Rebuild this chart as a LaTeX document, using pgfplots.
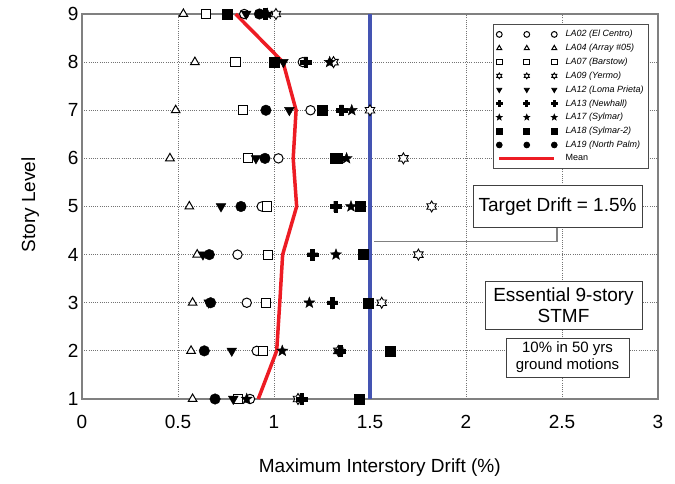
\documentclass[border=0pt]{standalone}
\usepackage{fontspec}
\setmainfont{Liberation Sans}
\usepackage{pgfplots}
\pgfplotsset{compat=1.18}

\definecolor{meanred}{RGB}{237,28,36}
\definecolor{targetblue}{RGB}{68,84,178}
\definecolor{axgray}{RGB}{128,128,128}

\pgfplotsset{
 threemarks/.style={legend image code/.code={\draw[##1, only marks, mark size=2.9pt] plot coordinates {(0pt,0pt) (27.5pt,0pt) (55pt,0pt)};}},
 meanlegend/.style={legend image code/.code={\draw[##1] (0pt,0pt) -- (55pt,0pt);}},
}

\pgfdeclareplotmark{hexstar}{%
 \pgfpathmoveto{\pgfpointpolar{90}{\pgfplotmarksize}}%
 \pgfpathlineto{\pgfpointpolar{120}{0.577\pgfplotmarksize}}%
 \pgfpathlineto{\pgfpointpolar{150}{\pgfplotmarksize}}%
 \pgfpathlineto{\pgfpointpolar{180}{0.577\pgfplotmarksize}}%
 \pgfpathlineto{\pgfpointpolar{210}{\pgfplotmarksize}}%
 \pgfpathlineto{\pgfpointpolar{240}{0.577\pgfplotmarksize}}%
 \pgfpathlineto{\pgfpointpolar{270}{\pgfplotmarksize}}%
 \pgfpathlineto{\pgfpointpolar{300}{0.577\pgfplotmarksize}}%
 \pgfpathlineto{\pgfpointpolar{330}{\pgfplotmarksize}}%
 \pgfpathlineto{\pgfpointpolar{0}{0.577\pgfplotmarksize}}%
 \pgfpathlineto{\pgfpointpolar{30}{\pgfplotmarksize}}%
 \pgfpathlineto{\pgfpointpolar{60}{0.577\pgfplotmarksize}}%
 \pgfpathclose
 \pgfusepathqfillstroke}

\pgfdeclareplotmark{fivestar}{%
 \pgfpathmoveto{\pgfpointpolar{90}{\pgfplotmarksize}}%
 \pgfpathlineto{\pgfpointpolar{126}{0.42\pgfplotmarksize}}%
 \pgfpathlineto{\pgfpointpolar{162}{\pgfplotmarksize}}%
 \pgfpathlineto{\pgfpointpolar{198}{0.42\pgfplotmarksize}}%
 \pgfpathlineto{\pgfpointpolar{234}{\pgfplotmarksize}}%
 \pgfpathlineto{\pgfpointpolar{270}{0.42\pgfplotmarksize}}%
 \pgfpathlineto{\pgfpointpolar{306}{\pgfplotmarksize}}%
 \pgfpathlineto{\pgfpointpolar{342}{0.42\pgfplotmarksize}}%
 \pgfpathlineto{\pgfpointpolar{18}{\pgfplotmarksize}}%
 \pgfpathlineto{\pgfpointpolar{54}{0.42\pgfplotmarksize}}%
 \pgfpathclose
 \pgfusepathqfillstroke}

\pgfdeclareplotmark{bigplus}{%
 \pgfpathmoveto{\pgfpoint{0.36\pgfplotmarksize}{\pgfplotmarksize}}%
 \pgfpathlineto{\pgfpoint{0.36\pgfplotmarksize}{0.36\pgfplotmarksize}}%
 \pgfpathlineto{\pgfpoint{\pgfplotmarksize}{0.36\pgfplotmarksize}}%
 \pgfpathlineto{\pgfpoint{\pgfplotmarksize}{-0.36\pgfplotmarksize}}%
 \pgfpathlineto{\pgfpoint{0.36\pgfplotmarksize}{-0.36\pgfplotmarksize}}%
 \pgfpathlineto{\pgfpoint{0.36\pgfplotmarksize}{-\pgfplotmarksize}}%
 \pgfpathlineto{\pgfpoint{-0.36\pgfplotmarksize}{-\pgfplotmarksize}}%
 \pgfpathlineto{\pgfpoint{-0.36\pgfplotmarksize}{-0.36\pgfplotmarksize}}%
 \pgfpathlineto{\pgfpoint{-\pgfplotmarksize}{-0.36\pgfplotmarksize}}%
 \pgfpathlineto{\pgfpoint{-\pgfplotmarksize}{0.36\pgfplotmarksize}}%
 \pgfpathlineto{\pgfpoint{-0.36\pgfplotmarksize}{0.36\pgfplotmarksize}}%
 \pgfpathlineto{\pgfpoint{-0.36\pgfplotmarksize}{\pgfplotmarksize}}%
 \pgfpathclose
 \pgfusepathqfillstroke}

\begin{document}
\begin{tikzpicture}
\path[use as bounding box] (-82pt,-85pt) rectangle (593pt,399pt);
\begin{axis}[
 at={(0pt,0pt)}, anchor=south west,
 scale only axis, width=576pt, height=385pt,
 xmin=0, xmax=3, ymin=1, ymax=9,
 xtick={0,0.5,1,1.5,2,2.5,3}, ytick={1,2,...,9},
 major tick length=0pt,
 axis line style={draw=axgray, line width=1.2pt},
 xmajorgrids, ymajorgrids,
 grid style={draw=black!55, line width=0.8pt, dash pattern=on 1pt off 1.2pt},
 /pgf/number format/assume math mode=true,
 tick label style={font=\fontsize{19}{22}\selectfont},
 xticklabel style={yshift=-13pt},
 xlabel={Maximum Interstory Drift (\%)}, ylabel={Story Level},
 label style={font=\fontsize{19}{22}\selectfont},
 xlabel style={at={(axis description cs:0.517,-0.177)}, anchor=center},
 ylabel style={at={(axis description cs:-0.09,0.504)}, anchor=center},
 clip=false,
 threemarks,
 legend style={at={(0.7135,0.974)}, anchor=north west, draw=black!70, line width=0.8pt, fill=white,
   font=\fontsize{9}{10}\selectfont, inner xsep=3pt, inner ysep=4.5pt, row sep=2.8pt,
   nodes={inner sep=1.5pt}, cells={anchor=west},
   /tikz/every odd column/.append style={column sep=7pt}},
]
% target drift line
\addplot[forget plot, draw=targetblue, line width=4.5pt] coordinates {(1.5,1) (1.5,9)};

% LA02 open circle
\addplot[only marks, mark=*, mark size=4.7pt, draw=black, fill=white, line width=1pt]
 coordinates {(0.875,1) (0.91,2) (0.858,3) (0.81,4) (0.936,5) (1.023,6) (1.19,7) (1.15,8) (0.845,9)};
\addlegendentry{\textit{LA02 (El Centro)}}
% LA04 open triangle
\addplot[only marks, mark=triangle*, mark size=5pt, draw=black, fill=white, line width=1pt]
 coordinates {(0.576,1) (0.568,2) (0.576,3) (0.60,4) (0.559,5) (0.458,6) (0.488,7) (0.588,8) (0.528,9)};
\addlegendentry{\textit{LA04 (Array \#05)}}
% LA07 open square
\addplot[only marks, mark=square*, mark size=4.6pt, draw=black, fill=white, line width=1pt]
 coordinates {(0.814,1) (0.941,2) (0.958,3) (0.97,4) (0.965,5) (0.866,6) (0.84,7) (0.80,8) (0.646,9)};
\addlegendentry{\textit{LA07 (Barstow)}}
% LA09 open hexagram
\addplot[only marks, mark=hexstar, mark size=5.5pt, draw=black, fill=white, line width=0.9pt]
 coordinates {(1.125,1) (1.335,2) (1.561,3) (1.752,4) (1.821,5) (1.674,6) (1.50,7) (1.31,8) (1.01,9)};
\addlegendentry{\textit{LA09 (Yermo)}}
% LA12 filled down triangle
\addplot[only marks, mark=triangle*, mark size=5.6pt, mark options={rotate=180}, draw=black, fill=black]
 coordinates {(0.788,1) (0.78,2) (0.66,3) (0.63,4) (0.724,5) (0.906,6) (1.08,7) (1.049,8) (0.855,9)};
\addlegendentry{\textit{LA12 (Loma Prieta)}}
% LA13 plus
\addplot[only marks, mark=bigplus, mark size=5.3pt, draw=black, fill=black]
 coordinates {(1.144,1) (1.344,2) (1.304,3) (1.201,4) (1.321,5) (1.344,6) (1.352,7) (1.165,8) (0.955,9)};
\addlegendentry{\textit{LA13 (Newhall)}}
% LA17 star
\addplot[only marks, mark=fivestar, mark size=5.8pt, draw=black, fill=black]
 coordinates {(0.858,1) (1.043,2) (1.184,3) (1.323,4) (1.401,5) (1.378,6) (1.405,7) (1.29,8) (0.965,9)};
\addlegendentry{\textit{LA17 (Sylmar)}}
% LA18 filled square
\addplot[only marks, mark=square*, mark size=5pt, draw=black, fill=black]
 coordinates {(1.444,1) (1.604,2) (1.491,3) (1.462,4) (1.451,5) (1.318,6) (1.25,7) (1.0,8) (0.757,9)};
\addlegendentry{\textit{LA18 (Sylmar-2)}}
% LA19 filled circle
\addplot[only marks, mark=*, mark size=5.3pt, draw=black, fill=black]
 coordinates {(0.693,1) (0.637,2) (0.670,3) (0.663,4) (0.828,5) (0.953,6) (0.958,7) (1.005,8) (0.924,9)};
\addlegendentry{\textit{LA19 (North Palm)}}
% Mean
\addplot[draw=meanred, line width=3.5pt, no marks, meanlegend]
 coordinates {(0.918,1) (1.014,2) (1.03,3) (1.045,4) (1.118,5) (1.10,6) (1.115,7) (1.047,8) (0.80,9)};
\addlegendentry{Mean}

% annotations
\draw[draw=axgray, line width=1.3pt] (axis cs:2.474,4.574) -- (axis cs:2.474,4.27) -- (axis cs:1.52,4.27);
\node[draw=black!75, fill=white, line width=1pt, minimum width=169pt, minimum height=42pt, inner sep=1pt,
  font=\fontsize{19}{22}\selectfont] at (axis cs:2.477,5.0) {Target Drift = 1.5\%};
\node[draw=black!75, fill=white, line width=1pt, minimum width=157pt, minimum height=48pt, inner sep=1pt,
  align=center, font=\fontsize{19}{21}\selectfont] at (axis cs:2.508,2.953) {Essential 9-story\\STMF};
\node[draw=black!75, fill=white, line width=1pt, minimum width=123pt, minimum height=39pt, inner sep=1pt,
  align=center, font=\fontsize{15}{17}\selectfont] at (axis cs:2.529,1.862) {10\% in 50 yrs\\ground motions};
\end{axis}
\end{tikzpicture}
\end{document}
